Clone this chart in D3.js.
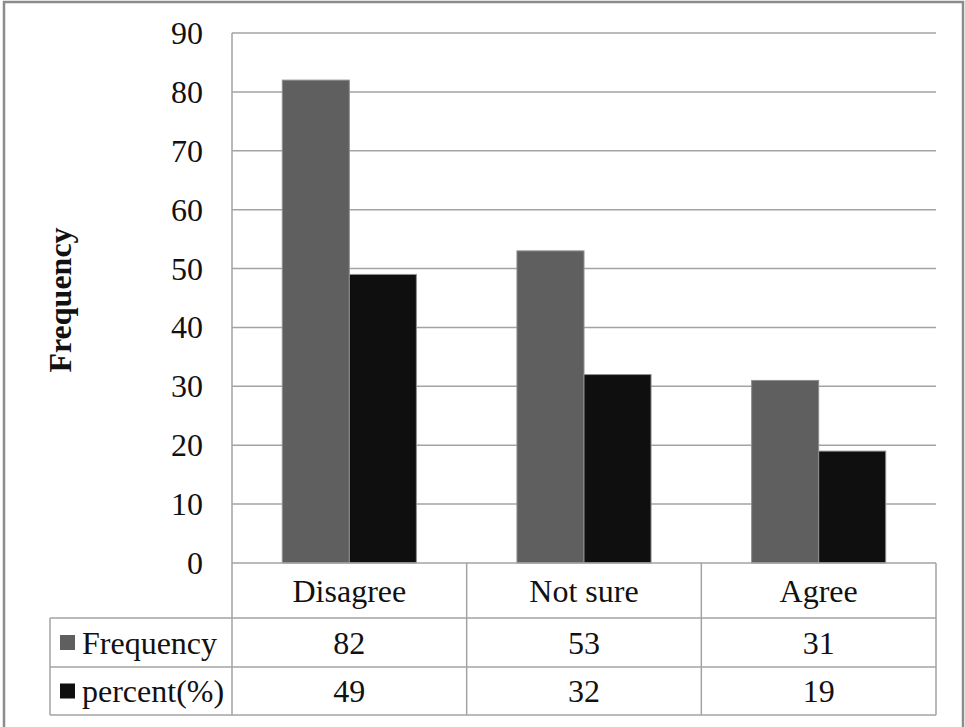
<!DOCTYPE html>
<html>
<head>
<meta charset="utf-8">
<script src="https://cdn.jsdelivr.net/npm/d3@7"></script>
<style>
  html, body { margin: 0; padding: 0; background: #fff; }
  svg { display: block; }
  text { font-family: "Liberation Serif", "Times New Roman", serif; fill: #111; }
</style>
</head>
<body>
<svg id="chart" width="965" height="727"></svg>
<script>
// Responses and their counts / shares
const categories = ["Disagree", "Not sure", "Agree"];
const seriesNames = ["Frequency", "percent(%)"];
const frequency = [82, 53, 31];
const percent = [49, 32, 19];
const yTicks = [0, 10, 20, 30, 40, 50, 60, 70, 80, 90];
const yTitle = "Frequency";

const seriesValues = [frequency, percent];
const seriesColors = ["#5f5f5f", "#0f0f0f"];

const W = 965, H = 727;
const plot = { left: 232, right: 936, top: 33, bottom: 563 };
const tableLeft = 50;
const rowBottoms = [618, 667, 715];
const gridColor = "#a3a3a3";
const fontSize = 32;

const svg = d3.select("#chart");

// outer frame
svg.append("rect")
  .attr("x", 4).attr("y", 2)
  .attr("width", 959).attr("height", H + 10)
  .attr("fill", "none").attr("stroke", "#8c8c8c").attr("stroke-width", 2.5);

const y = d3.scaleLinear().domain([0, 90]).range([plot.bottom, plot.top]);
const x0 = d3.scaleBand().domain(categories).range([plot.left, plot.right]).padding(0);
// bar group occupies 2 bars with a 150% gap width
const gapFrac = 1.5 / 3.5;
const x1 = d3.scaleBand().domain(seriesNames)
  .range([x0.bandwidth() * gapFrac / 2, x0.bandwidth() * (1 - gapFrac / 2)])
  .padding(0);

// horizontal gridlines
svg.append("g").selectAll("line")
  .data(yTicks.filter(d => d > 0))
  .join("line")
  .attr("x1", plot.left).attr("x2", plot.right)
  .attr("y1", d => y(d)).attr("y2", d => y(d))
  .attr("stroke", gridColor).attr("stroke-width", 1.5);

// y-axis tick labels
svg.append("g").selectAll("text")
  .data(yTicks)
  .join("text")
  .attr("x", 203)
  .attr("y", d => y(d))
  .attr("text-anchor", "end")
  .attr("dominant-baseline", "central")
  .attr("font-size", fontSize)
  .text(d => d);

// y-axis title
svg.append("text")
  .attr("transform", `translate(60, ${(plot.top + plot.bottom) / 2 + 2}) rotate(-90)`)
  .attr("text-anchor", "middle")
  .attr("dominant-baseline", "central")
  .attr("font-size", fontSize)
  .attr("font-weight", "bold")
  .text(yTitle);

// bars
const groups = svg.append("g").selectAll("g")
  .data(categories)
  .join("g")
  .attr("transform", d => `translate(${x0(d)},0)`);

groups.selectAll("rect")
  .data((d, i) => seriesNames.map((s, k) => ({ s, k, v: seriesValues[k][i] })))
  .join("rect")
  .attr("x", d => x1(d.s))
  .attr("width", x1.bandwidth())
  .attr("y", d => y(d.v))
  .attr("height", d => y(0) - y(d.v))
  .attr("fill", d => seriesColors[d.k])
  .attr("stroke", "#8f8f8f")
  .attr("stroke-width", 1);

// value axis line
const lines = svg.append("g").attr("stroke", gridColor).attr("stroke-width", 1.5);
lines.append("line")
  .attr("x1", plot.left).attr("x2", plot.left)
  .attr("y1", plot.top).attr("y2", rowBottoms[2]);

// data table grid
lines.append("line")
  .attr("x1", plot.left).attr("x2", plot.right)
  .attr("y1", plot.bottom).attr("y2", plot.bottom);
rowBottoms.forEach(yy => {
  lines.append("line")
    .attr("x1", tableLeft).attr("x2", plot.right)
    .attr("y1", yy).attr("y2", yy);
});
lines.append("line")
  .attr("x1", tableLeft).attr("x2", tableLeft)
  .attr("y1", rowBottoms[0]).attr("y2", rowBottoms[2]);
categories.forEach(c => {
  const xr = x0(c) + x0.bandwidth();
  lines.append("line")
    .attr("x1", xr).attr("x2", xr)
    .attr("y1", plot.bottom).attr("y2", rowBottoms[2]);
});

// category header row
svg.append("g").selectAll("text")
  .data(categories)
  .join("text")
  .attr("x", d => x0(d) + x0.bandwidth() / 2)
  .attr("y", (plot.bottom + rowBottoms[0]) / 2)
  .attr("text-anchor", "middle")
  .attr("dominant-baseline", "central")
  .attr("font-size", fontSize)
  .text(d => d);

// series rows: legend key, name and values
seriesNames.forEach((name, k) => {
  const top = rowBottoms[k];
  const bottom = rowBottoms[k + 1];
  const mid = (top + bottom) / 2;
  svg.append("rect")
    .attr("x", 60).attr("y", mid - 7.5)
    .attr("width", 15).attr("height", 15)
    .attr("fill", seriesColors[k]);
  svg.append("text")
    .attr("x", 82).attr("y", mid)
    .attr("dominant-baseline", "central")
    .attr("font-size", fontSize)
    .text(name);
  svg.append("g").selectAll("text")
    .data(categories)
    .join("text")
    .attr("x", d => x0(d) + x0.bandwidth() / 2)
    .attr("y", mid)
    .attr("text-anchor", "middle")
    .attr("dominant-baseline", "central")
    .attr("font-size", fontSize)
    .text((d, i) => seriesValues[k][i]);
});
</script>
</body>
</html>
